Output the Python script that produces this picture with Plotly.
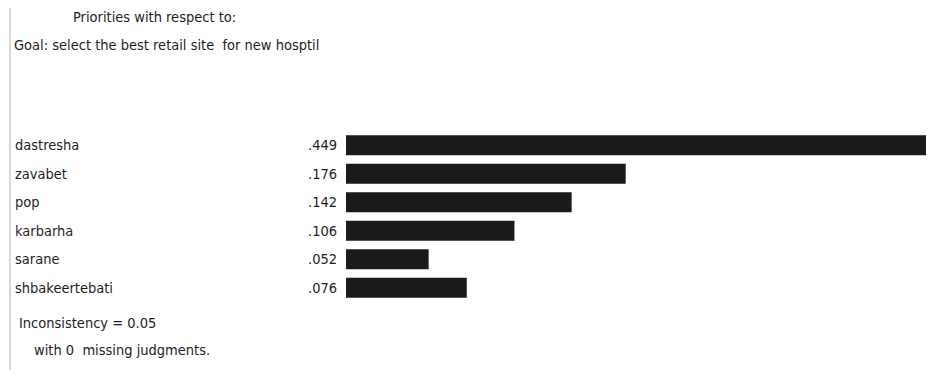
import plotly.graph_objects as go

# AHP priorities (goal: select the best retail site)
criteria = ["dastresha", "zavabet", "pop", "karbarha", "sarane", "shbakeertebati"]
priorities = [0.449, 0.176, 0.142, 0.106, 0.052, 0.076]
value_labels = [".449", ".176", ".142", ".106", ".052", ".076"]

title_lines = ["Priorities with respect to:", "Goal: select the best retail site  for new hosptil"]
footer_lines = ["Inconsistency = 0.05", "with 0  missing judgments."]

FONT = "Liberation Sans Narrow, DejaVu Sans Condensed, Arial Narrow, sans-serif"
TXT = "#1e1e1e"
FSIZE = 14.5

# the page body has an 8px margin, so the figure is 8px smaller and
# everything is placed in window pixels minus that offset
OFF = 8
W, H = 934 - OFF, 375 - OFF
L, R, T, B = 346 - OFF, 0, 131 - OFF, 73
pw, ph = W - L - R, H - T - B


def px2paper(px, py):
    return (px - OFF - L) / pw, (H - B - (py - OFF)) / ph


fig = go.Figure()
fig.add_trace(go.Bar(
    x=priorities,
    y=criteria,
    orientation="h",
    width=0.7,
    marker=dict(color="#1a1a1a", line=dict(width=0)),
    hoverinfo="x+y",
))

annots = []
name_x, _ = px2paper(13, 0)
for name in criteria:
    annots.append(dict(
        x=name_x, xref="paper", y=name, yref="y",
        text=name, showarrow=False, xanchor="left", yanchor="middle",
        font=dict(family=FONT, size=FSIZE, color=TXT),
    ))

# header + footer placed by pixel position
extra = [
    (title_lines[0], 155, 17, "center"),
    (title_lines[1], 12, 45, "left"),
    (footer_lines[0], 17, 323, "left"),
    (footer_lines[1], 32, 350, "left"),
]
for txt, px, py, anchor in extra:
    x, y = px2paper(px, py)
    annots.append(dict(x=x, xref="paper", y=y, yref="paper", text=txt,
                       showarrow=False, xanchor=anchor, yanchor="middle",
                       font=dict(family=FONT, size=FSIZE, color=TXT)))

lx, ly0 = px2paper(10, 8)
_, ly1 = px2paper(10, 370)

fig.update_layout(
    width=W, height=H,
    margin=dict(l=L, r=R, t=T, b=B),
    plot_bgcolor="white", paper_bgcolor="white",
    showlegend=False,
    bargap=0.3,
    annotations=annots,
    shapes=[dict(type="line", xref="paper", yref="paper",
                 x0=lx, x1=lx, y0=ly0, y1=ly1,
                 line=dict(color="#d8d8d8", width=2))],
    xaxis=dict(range=[0, 0.37], showgrid=False, zeroline=False,
               showticklabels=False, showline=False, fixedrange=True),
    yaxis=dict(autorange="reversed", showgrid=False, zeroline=False,
               showline=False, tickmode="array", tickvals=criteria,
               ticktext=value_labels, ticks="outside", ticklen=5,
               tickcolor="white",
               tickfont=dict(family=FONT, size=FSIZE, color=TXT)),
)

fig.write_html("out.html")
